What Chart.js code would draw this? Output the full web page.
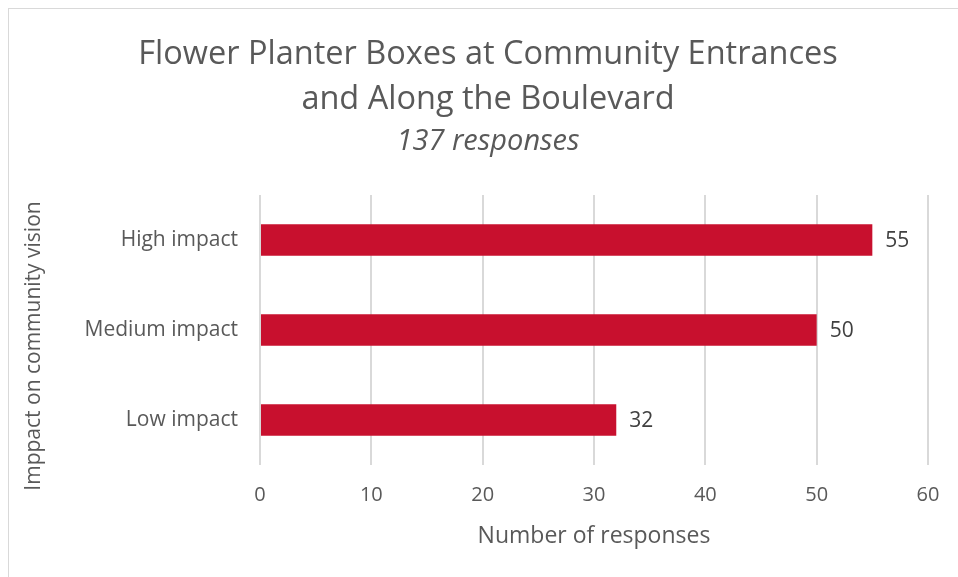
<!DOCTYPE html>
<html>
<head>
  <script src="https://cdn.jsdelivr.net/npm/chart.js"></script>
  <title>Flower Planter Boxes</title>
  <style>
    body { margin: 0; background: #fff; }
    #wrap { position: relative; width: 958px; height: 577px; }
    #frame { position: absolute; left: 8px; top: 8px; width: 970px; height: 590px; border: 1px solid #d9d9d9; }
  </style>
</head>
<body>
  <div id="wrap">
    <div id="frame"></div>
    <canvas id="planterChart" width="958" height="577"></canvas>
  </div>

  <script>
    // values
    const categories = ['High impact', 'Medium impact', 'Low impact'];
    const responses = [55, 50, 32];
    const xTicks = [0, 10, 20, 30, 40, 50, 60];

    const textColor = '#595959';
    const fontFamily = '"Open Sans", Lato, sans-serif';
    const yTitle = 'Imppact on community vision';

    // number next to each bar end, plus the y title (centred lower than chart.js would put it)
    const barLabels = {
      id: 'barLabels',
      afterDatasetsDraw(chart) {
        const ctx = chart.ctx;
        const meta = chart.getDatasetMeta(0);
        ctx.save();
        ctx.font = '21px ' + fontFamily;
        ctx.fillStyle = '#404040';
        ctx.textAlign = 'left';
        ctx.textBaseline = 'middle';
        meta.data.forEach((bar, i) => {
          ctx.fillText(responses[i], bar.x + 13, bar.y + 1);
        });

        ctx.translate(34, 346);
        ctx.rotate(-Math.PI / 2);
        ctx.font = '21px ' + fontFamily;
        ctx.fillStyle = textColor;
        ctx.textAlign = 'center';
        ctx.fillText(yTitle, 0, 0);
        ctx.restore();
      }
    };

    const ctx = document.getElementById('planterChart').getContext('2d');
    const chart = new Chart(ctx, {
      type: 'bar',
      data: {
        labels: categories,
        datasets: [{
          data: responses,
          backgroundColor: '#c8102e',
          categoryPercentage: 0.35,
          barPercentage: 1
        }]
      },
      options: {
        indexAxis: 'y',
        responsive: false,
        animation: false,
        layout: { padding: { left: 18, right: 0, top: 0, bottom: 0 } },
        plugins: {
          legend: { display: false },
          tooltip: { enabled: false },
          title: {
            display: true,
            text: ['Flower Planter Boxes at Community Entrances', 'and Along the Boulevard'],
            color: textColor,
            font: { family: fontFamily, size: 32.5, weight: 'normal', lineHeight: 1.385 },
            padding: { top: 32, bottom: 0 }
          },
          subtitle: {
            display: true,
            text: '137 responses',
            color: textColor,
            font: { family: fontFamily, size: 29, style: 'italic', weight: 'normal', lineHeight: 1.1 },
            padding: { top: 4, bottom: 37 }
          }
        },
        scales: {
          x: {
            min: 0,
            max: 60,
            afterBuildTicks(axis) {
              axis.ticks = xTicks.map(v => ({ value: v }));
            },
            afterFit(axis) { axis.height = 112; },
            grid: { color: '#d9d9d9', lineWidth: 2, drawTicks: false },
            border: { display: false },
            ticks: { color: textColor, padding: 18, font: { family: fontFamily, size: 20 } },
            title: {
              display: true,
              text: 'Number of responses',
              color: textColor,
              font: { family: fontFamily, size: 23 },
              padding: { top: 0, bottom: 27 }
            }
          },
          y: {
            afterFit(axis) { axis.width = 242; },
            grid: { display: false },
            border: { display: false },
            ticks: { color: textColor, padding: 14, font: { family: fontFamily, size: 21 } }
          },
          // empty strip on the right so the plot stops short of the frame edge
          yRight: {
            type: 'category',
            position: 'right',
            afterFit(axis) { axis.width = 30; },
            grid: { display: false },
            border: { display: false },
            ticks: { display: false }
          }
        }
      },
      plugins: [barLabels]
    });
  </script>
</body>
</html>
